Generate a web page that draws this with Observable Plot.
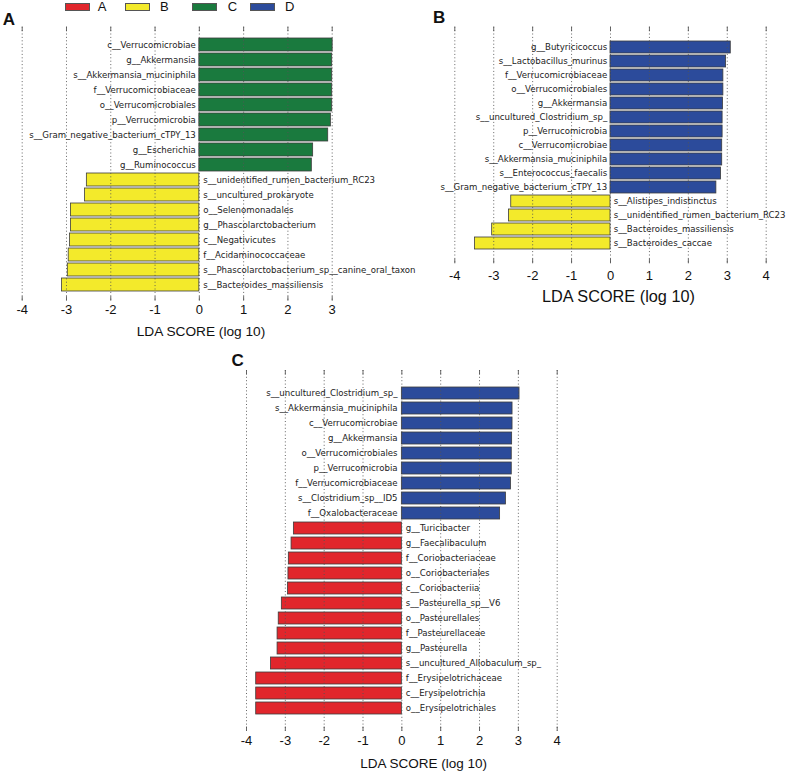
<!DOCTYPE html>
<html>
<head>
<meta charset="utf-8">
<script src="https://cdn.jsdelivr.net/npm/d3@7"></script>
<script src="https://cdn.jsdelivr.net/npm/@observablehq/plot@0.6"></script>
<style>
  html, body { margin: 0; padding: 0; background: white; }
  #wrap { position: relative; width: 787px; height: 772px; overflow: hidden; font-family: "Liberation Sans", Arial, sans-serif; }
  .sw { position: absolute; top: 2.7px; width: 25px; height: 8.3px; box-sizing: border-box; border: 1px solid #555; }
  .lt { position: absolute; top: 0px; font-size: 13px; line-height: 13px; color: #111; }
  .pl { position: absolute; font-size: 17px; line-height: 17px; font-weight: bold; color: #111; }
</style>
</head>
<body>
<div id="wrap"></div>
<script>
// ---------- data ----------
const groupNames = ["A", "B", "C", "D"];
const groupColors = ["#e1262c", "#f3ea2b", "#1a7a3e", "#2c4b9b"];

const aTaxa = ["c__Verrucomicrobiae","g__Akkermansia","s__Akkermansia_muciniphila","f__Verrucomicrobiaceae","o__Verrucomicrobiales","p__Verrucomicrobia","s__Gram_negative_bacterium_cTPY_13","g__Escherichia","g__Ruminococcus","s__unidentified_rumen_bacterium_RC23","s__uncultured_prokaryote","o__Selenomonadales","g__Phascolarctobacterium","c__Negativicutes","f__Acidaminococcaceae","s__Phascolarctobacterium_sp__canine_oral_taxon","s__Bacteroides_massiliensis"];
const aLDA = [3.01, 3.0, 3.0, 3.0, 3.0, 2.97, 2.91, 2.57, 2.54, -2.54, -2.58, -2.90, -2.90, -2.92, -2.95, -2.97, -3.10];
const aGroup = ["C","C","C","C","C","C","C","C","C","B","B","B","B","B","B","B","B"];
const aTicks = [-4, -3, -2, -1, 0, 1, 2, 3];

const bTaxa = ["g__Butyricicoccus","s__Lactobacillus_murinus","f__Verrucomicrobiaceae","o__Verrucomicrobiales","g__Akkermansia","s__uncultured_Clostridium_sp_","p__Verrucomicrobia","c__Verrucomicrobiae","s__Akkermansia_muciniphila","s__Enterococcus_faecalis","s__Gram_negative_bacterium_cTPY_13","s__Alistipes_indistinctus","s__unidentified_rumen_bacterium_RC23","s__Bacteroides_massiliensis","s__Bacteroides_caccae"];
const bLDA = [3.09, 2.97, 2.90, 2.90, 2.89, 2.88, 2.88, 2.87, 2.87, 2.84, 2.72, -2.55, -2.61, -3.04, -3.48];
const bGroup = ["D","D","D","D","D","D","D","D","D","D","D","B","B","B","B"];
const bTicks = [-4, -3, -2, -1, 0, 1, 2, 3, 4];

const cTaxa = ["s__uncultured_Clostridium_sp_","s__Akkermansia_muciniphila","c__Verrucomicrobiae","g__Akkermansia","o__Verrucomicrobiales","p__Verrucomicrobia","f__Verrucomicrobiaceae","s__Clostridium_sp__ID5","f__Oxalobacteraceae","g__Turicibacter","g__Faecalibaculum","f__Coriobacteriaceae","o__Coriobacteriales","c__Coriobacteriia","s__Pasteurella_sp__V6","o__Pasteurellales","f__Pasteurellaceae","g__Pasteurella","s__uncultured_Allobaculum_sp_","f__Erysipelotrichaceae","c__Erysipelotrichia","o__Erysipelotrichales"];
const cLDA = [3.03, 2.85, 2.85, 2.84, 2.83, 2.83, 2.81, 2.68, 2.53, -2.78, -2.84, -2.91, -2.92, -2.93, -3.09, -3.17, -3.20, -3.20, -3.37, -3.75, -3.75, -3.75];
const cGroup = ["D","D","D","D","D","D","D","D","D","A","A","A","A","A","A","A","A","A","A","A","A","A"];
const cTicks = [-4, -3, -2, -1, 0, 1, 2, 3, 4];

const axisTitle = "LDA SCORE (log 10)";

// ---------- drawing ----------
const W = 787, H = 772;
const wrap = document.getElementById("wrap");

function panel(taxa, lda, group, ticks, o) {
  const data = taxa.map((t, i) => ({taxon: t, lda: lda[i], group: group[i]}));
  const frameH = H - o.mt - o.mb;
  const plot = Plot.plot({
    width: W, height: H,
    marginLeft: o.ml, marginRight: o.mr, marginTop: o.mt, marginBottom: o.mb,
    x: {domain: [ticks[0], ticks[ticks.length - 1]], axis: null},
    y: {domain: taxa, range: o.yr, padding: o.pad, axis: null},
    color: {domain: groupNames, range: groupColors},
    style: {background: "transparent", overflow: "visible", position: "absolute", left: "0px", top: "0px",
            fontFamily: "'Liberation Sans', Arial, sans-serif", maxWidth: "none"},
    marks: [
      Plot.barX(data, {x1: d => 0, x2: "lda", y: "taxon", fill: "group", stroke: "#3c3c3c", strokeWidth: 0.8}),
      Plot.ruleX(ticks, {x: d => d, stroke: "#555", strokeWidth: 0.9, strokeDasharray: "1,2.4"}),
      Plot.ruleX(ticks, {x: d => d, stroke: "#555", strokeWidth: 0.9, insetBottom: frameH - 4.5}),
      Plot.ruleX(ticks, {x: d => d, stroke: "#555", strokeWidth: 0.9, insetTop: frameH - 4.5}),
      Plot.text(data, {filter: d => d.lda >= 0, x: d => 0, y: "taxon", text: "taxon", textAnchor: "end", dx: o.dxl,
        fontFamily: "'DejaVu Sans', sans-serif", fontSize: 8.6, fill: "#222"}),
      Plot.text(data, {filter: d => d.lda < 0, x: d => 0, y: "taxon", text: "taxon", textAnchor: "start", dx: o.dxr,
        fontFamily: "'DejaVu Sans', sans-serif", fontSize: 8.6, fill: "#222"}),
      Plot.axisX({ticks: ticks, tickSize: 0, tickPadding: o.tp, fontSize: 13, label: null, tickFormat: d => String(d), fill: "#111"}),
      Plot.text([axisTitle], {frameAnchor: "bottom", text: d => d, dx: o.tdx, dy: o.tdy, lineAnchor: "middle",
        fontSize: o.tfs, fill: "#111"})
    ]
  });
  wrap.appendChild(plot);
}

panel(aTaxa, aLDA, aGroup, aTicks, {ml: 21.7, mr: W - 331.7, mt: 26.7, mb: H - 300.7, yr: [33.6, 294.3], pad: 0.15,
  dxl: -3.5, dxr: 4, tp: 4, tdx: 23.8, tdy: 30.3, tfs: 13.7});
panel(bTaxa, bLDA, bGroup, bTicks, {ml: 454.3, mr: W - 765.7, mt: 26.7, mb: H - 263.3, yr: [31.8, 258.3], pad: 0.17,
  dxl: -3.3, dxr: 3.3, tp: 7, tdx: 8, tdy: 32.7, tfs: 16.3});
panel(cTaxa, cLDA, cGroup, cTicks, {ml: 246, mr: W - 556.7, mt: 370, mb: H - 731, yr: [375.3, 725.4], pad: 0.2,
  dxl: -4.3, dxr: 4, tp: 3.9, tdx: 21.7, tdy: 32, tfs: 13.5});

// legend
const legendPos = [[65, 97.7], [124.7, 160], [192.3, 227.7], [250, 285]];
groupNames.forEach((g, i) => {
  const sw = document.createElement("div");
  sw.className = "sw";
  sw.style.left = legendPos[i][0] + "px";
  sw.style.background = groupColors[i];
  wrap.appendChild(sw);
  const t = document.createElement("div");
  t.className = "lt";
  t.style.left = legendPos[i][1] + "px";
  t.textContent = g;
  wrap.appendChild(t);
});

// panel letters
[["A", 2.7, 10.6], ["B", 433, 8.9], ["C", 231.5, 352.3]].forEach(([s, x, y]) => {
  const d = document.createElement("div");
  d.className = "pl";
  d.style.left = x + "px";
  d.style.top = y + "px";
  d.textContent = s;
  wrap.appendChild(d);
});
</script>
</body>
</html>
